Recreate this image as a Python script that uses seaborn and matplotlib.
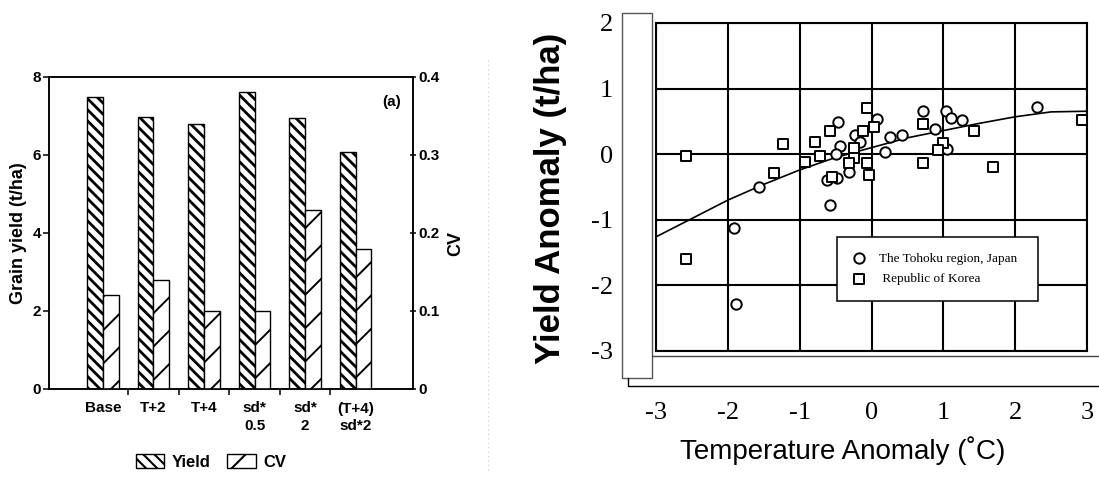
import pandas as pd
import matplotlib
matplotlib.use("Agg")
import matplotlib.pyplot as plt
import seaborn as sns
from matplotlib.patches import Rectangle
from matplotlib.lines import Line2D

# (a) bar chart: grain yield (left axis) and CV (right axis) per scenario
scenarios = ["Base", "T+2", "T+4", "sd*\n0.5", "sd*\n2", "(T+4)\nsd*2"]
grain_yield = [7.47, 6.96, 6.79, 7.62, 6.94, 6.08]
cv = [0.12, 0.139, 0.10, 0.10, 0.229, 0.179]
yield_ticks = [0, 2, 4, 6, 8]
cv_ticks = [0, 0.1, 0.2, 0.3, 0.4]

# right chart: yield anomaly vs temperature anomaly
japan_temp = [2.30, 0.71, 1.04, 1.10, 1.26, 0.89, 0.42, 0.26, 0.07, 0.19, 1.05, -0.23,
              -0.16, -0.46, -0.44, -0.49, -0.32, -0.62, -0.48, -0.58, -1.56, -1.91, -1.89]
japan_yield = [0.72, 0.66, 0.66, 0.55, 0.52, 0.39, 0.29, 0.26, 0.54, 0.03, 0.08, 0.29,
               0.19, 0.49, 0.13, 0.00, -0.27, -0.39, -0.36, -0.77, -0.50, -1.12, -2.28]
korea_temp = [-2.58, -2.58, -1.23, -1.36, -0.93, -0.79, -0.71, -0.58, -0.06, -0.12, 0.03, -0.25,
              -0.25, -0.31, -0.06, -0.03, -0.55, 0.71, 0.71, 0.99, 0.93, 1.43, 1.69, 2.93]
korea_yield = [-0.03, -1.59, 0.16, -0.29, -0.12, 0.19, -0.03, 0.35, 0.70, 0.35, 0.42, 0.10,
               -0.06, -0.14, -0.14, -0.32, -0.35, 0.46, -0.14, 0.17, 0.06, 0.35, -0.20, 0.52]
curve_temp = [-3, -2.5, -2, -1.5, -1, -0.5, 0, 0.5, 1, 1.5, 2, 2.5, 3]
curve_yield = [-1.26, -0.98, -0.70, -0.46, -0.24, -0.05, 0.10, 0.25, 0.36, 0.47, 0.57, 0.645, 0.655]
temp_ticks = [-3, -2, -1, 0, 1, 2, 3]
anom_ticks = [-3, -2, -1, 0, 1, 2]

sns.set_style("ticks", {"axes.edgecolor": "black", "text.color": "black",
                        "xtick.color": "black", "ytick.color": "black",
                        "axes.labelcolor": "black"})
plt.rcParams["font.family"] = ["Liberation Sans", "DejaVu Sans"]
plt.rcParams["hatch.linewidth"] = 1.5
plt.rcParams["axes.unicode_minus"] = False

W, H = 1099, 478
fig = plt.figure(figsize=(W / 100, H / 100), dpi=100)

# ---------------- left panel ----------------
ax = fig.add_axes([49.3 / W, 1 - 389 / H, 364 / W, 312.3 / H])
ax2 = ax.twinx()

df_y = pd.DataFrame({"scenario": scenarios, "value": grain_yield, "series": "Yield"})
df_c = pd.DataFrame({"scenario": scenarios, "value": cv, "series": "CV"})
pal = {"Yield": "white", "CV": "white"}
sns.barplot(data=df_y, x="scenario", y="value", hue="series", hue_order=["Yield", "CV"],
            order=scenarios, palette=pal, width=0.62, gap=0, dodge=True, edgecolor="black",
            linewidth=1.0, legend=False, ax=ax)
sns.barplot(data=df_c, x="scenario", y="value", hue="series", hue_order=["Yield", "CV"],
            order=scenarios, palette=pal, width=0.62, gap=0, dodge=True, edgecolor="black",
            linewidth=1.0, legend=False, ax=ax2)
for p in ax.patches:
    p.set_hatch("\\\\\\")
    if hasattr(p, "set_hatch_linewidth"):
        p.set_hatch_linewidth(2.0)
for p in ax2.patches:
    p.set_hatch("/")
    if hasattr(p, "set_hatch_linewidth"):
        p.set_hatch_linewidth(1.4)

ax.set_ylim(0, 8)
ax2.set_ylim(0, 0.4)
ax.set_xlim(-1.06, 6.14)
ax.set_yticks(yield_ticks)
ax.set_yticklabels([str(t) for t in yield_ticks], fontsize=11, fontweight="bold")
ax2.set_yticks(cv_ticks)
ax2.set_yticklabels([f"{t:g}" for t in cv_ticks], fontsize=11, fontweight="bold")
ax.set_xticks(range(len(scenarios)))
ax.set_xticklabels(scenarios, fontsize=11, fontweight="bold", linespacing=1.3)
ax.set_xticks([i + 0.5 for i in range(len(scenarios) - 1)], minor=True)
ax.tick_params(axis="x", which="major", length=0, pad=9)
ax.tick_params(axis="x", which="minor", length=4, width=1.1, direction="out")
ax.tick_params(axis="y", length=4, width=1.1, pad=2)
ax2.tick_params(axis="y", length=4, width=1.1, pad=2, direction="inout")
for a in (ax, ax2):
    for s in a.spines.values():
        s.set_visible(True)
        s.set_linewidth(1.1)
        s.set_color("black")
ax.set_xlabel("")
ax.set_ylabel("Grain yield (t/ha)", fontsize=13, fontweight="bold")
ax.yaxis.set_label_coords(-0.061, 0.498)
ax2.set_ylabel("CV", fontsize=13, fontweight="bold")
ax2.yaxis.set_label_coords(1.0926, 0.467)
ax.text(0.9415, 0.919, "(a)", transform=ax.transAxes, ha="center", va="center",
        fontsize=11, fontweight="bold")

fig.legend(handles=[ax.patches[0], ax2.patches[0]], labels=["Yield", "CV"],
           loc="center", bbox_to_anchor=(211 / W, 1 - 462 / H), ncol=2, frameon=False,
           handlelength=1.7, handleheight=0.85, handletextpad=0.45, columnspacing=1.0,
           prop={"size": 12, "weight": "bold"})

# ---------------- right panel ----------------
axr = fig.add_axes([656 / W, 1 - 351 / H, 431 / W, 328 / H])
axr.set_axisbelow(True)
axr.grid(True, color="black", linewidth=1.5)
sns.lineplot(x=curve_temp, y=curve_yield, color="black", linewidth=1.2, sort=False,
             estimator=None, ax=axr)
sns.scatterplot(x=japan_temp, y=japan_yield, marker="o", s=56, color="white",
                edgecolor="black", linewidth=1.4, label="The Tohoku region, Japan",
                ax=axr, zorder=3)
sns.scatterplot(x=korea_temp, y=korea_yield, marker="s", s=58, color="white",
                edgecolor="black", linewidth=1.4, label=" Republic of Korea",
                ax=axr, zorder=4)
axr.set_xlim(-3, 3)
axr.set_ylim(-3, 2)
axr.set_xticks(temp_ticks)
axr.set_xticklabels([str(t) for t in temp_ticks], family="Liberation Serif", fontsize=19)
axr.set_yticks(anom_ticks)
axr.set_yticklabels([str(t) for t in anom_ticks], family="Liberation Serif", fontsize=19)
axr.tick_params(axis="x", length=0, pad=37)
axr.tick_params(axis="y", length=0, pad=31)
for s in axr.spines.values():
    s.set_visible(True)
    s.set_linewidth(1.5)
    s.set_color("black")
axr.set_xlabel("Temperature Anomaly (\u02daC)", fontsize=20)
axr.xaxis.set_label_coords(0.433, -0.259)
axr.set_ylabel("Yield Anomaly (t/ha)", fontsize=25, fontweight="bold")
axr.yaxis.set_label_coords(-0.2065, 0.465)

leg = axr.legend(loc="upper left", bbox_to_anchor=(0.419, 0.149, 0.467, 0.199),
                 mode="expand", borderaxespad=0, fancybox=False, framealpha=1,
                 edgecolor="black", handlelength=1.0, handletextpad=1.0,
                 borderpad=1.2, labelspacing=0.6,
                 prop={"family": "Liberation Serif", "size": 9.5})
leg.get_frame().set_linewidth(1.1)

# frame pieces around the right panel, as in the scanned figure
fig.add_artist(Rectangle((621.7 / W, 1 - 378.3 / H), 30.6 / W, 365 / H,
                         transform=fig.transFigure, fill=False, edgecolor="#555555", lw=1))
fig.add_artist(Line2D([652 / W, 1], [1 - 356 / H, 1 - 356 / H],
                      transform=fig.transFigure, color="#444444", lw=1))
fig.add_artist(Line2D([628 / W, 628 / W, 1], [1 - 378.3 / H, 1 - 386 / H, 1 - 386 / H],
                      transform=fig.transFigure, color="black", lw=1))
fig.add_artist(Line2D([488 / W, 488 / W], [1 - 60 / H, 1 - 470 / H],
                      transform=fig.transFigure, color="#c8c8c8", lw=0.8, ls=(0, (1, 3))))

fig.savefig("out.png", dpi=100)
